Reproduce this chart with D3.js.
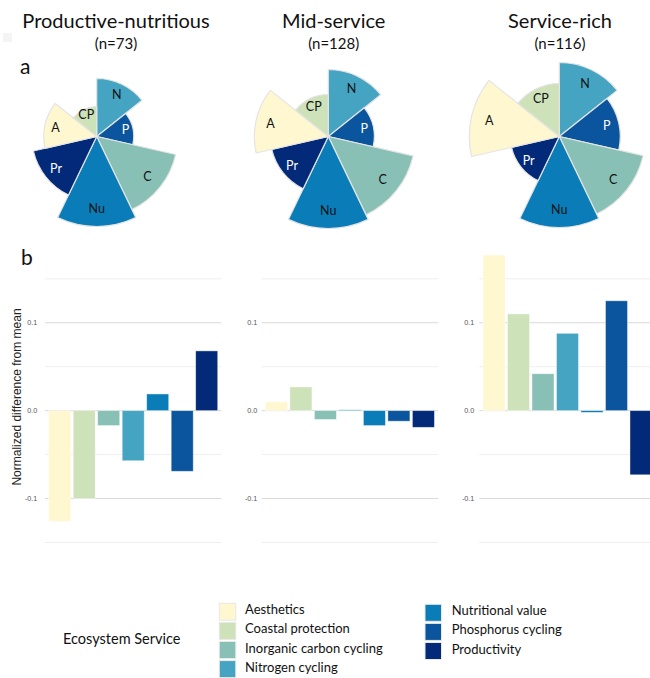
<!DOCTYPE html>
<html>
<head>
<meta charset="utf-8">
<script src="https://cdn.jsdelivr.net/npm/d3@7"></script>
<style>
  html, body { margin: 0; padding: 0; background: #fff; }
  svg { display: block; }
</style>
</head>
<body>
<svg id="chart" width="650" height="678"></svg>
<script>
// Ecosystem services, in legend / bar order
const services = ["Aesthetics", "Coastal protection", "Inorganic carbon cycling", "Nitrogen cycling",
                  "Nutritional value", "Phosphorus cycling", "Productivity"];
const abbrev = ["A", "CP", "C", "N", "Nu", "P", "Pr"];
const serviceColors = ["#fff7cf", "#cde2b9", "#88c0b5", "#45a4c1", "#0a7db8", "#0a559e", "#032a79"];

// Clusters of sites
const groups = ["Productive-nutritious", "Mid-service", "Service-rich"];
const groupN = [73, 128, 116];

// Clockwise order of the wedges in each rose, starting at 12 o'clock
const roseOrder = ["N", "P", "C", "Nu", "Pr", "A", "CP"];

// Relative service level per cluster (wedge length), in service order
const levelProductive = [0.53, 0.30, 0.81, 0.58, 0.90, 0.37, 0.65];
const levelMid        = [0.74, 0.42, 0.87, 0.67, 0.92, 0.46, 0.58];
const levelRich       = [0.90, 0.53, 0.86, 0.74, 0.91, 0.61, 0.49];

// Normalized difference from the overall mean, in service order
const diffProductive = [-0.126, -0.100, -0.017, -0.057, 0.019, -0.069, 0.068];
const diffMid        = [0.010, 0.027, -0.010, 0.001, -0.017, -0.012, -0.019];
const diffRich       = [0.177, 0.110, 0.042, 0.088, -0.002, 0.125, -0.073];

// Axis ticks
const majorTicks = [-0.1, 0.0, 0.1];
const majorTickLabels = ["-0.1", "0.0", "0.1"];
const minorTicks = [-0.15, -0.05, 0.05, 0.15];

const levels = [levelProductive, levelMid, levelRich];
const diffs = [diffProductive, diffMid, diffRich];

const svg = d3.select("#chart");
const calibri = "Lato, 'Open Sans', sans-serif";
const arial = "'Liberation Sans', Arial, sans-serif";

const colorOf = d3.scaleOrdinal().domain(abbrev).range(serviceColors);
const darkLabels = new Set(["P", "Pr"]);

// Per-panel placement
const panels = [
  { roseX: 96.7,  titleX: 116,   barLeft: 45,    tickRight: 37.3 },
  { roseX: 328.3, titleX: 333.7, barLeft: 261.7, tickRight: 257.3 },
  { roseX: 559.3, titleX: 560,   barLeft: 479.3, tickRight: 474.3 }
];
const roseY = 136.5;

// faint key square, top left
svg.append("rect").attr("x", 3).attr("y", 33).attr("width", 9).attr("height", 9).attr("fill", "#f4f4f4");

// Panel letters
svg.append("text").attr("x", 20).attr("y", 74).text("a")
  .attr("font-family", calibri).attr("font-size", 21).attr("fill", "#111");
svg.append("text").attr("x", 21).attr("y", 265).text("b")
  .attr("font-family", calibri).attr("font-size", 21).attr("fill", "#111");

// Radial scale for the roses
const rScale = d3.scaleLinear().domain([0, 1]).range([0, 100]);
const wedge = (2 * Math.PI) / roseOrder.length;

// Bar scales
const step = 24.5;
const yScale = d3.scaleLinear().domain([-0.15, 0.15]).range([542.5, 278.8]);

groups.forEach((g, gi) => {
  const p = panels[gi];

  // Titles
  svg.append("text").attr("x", p.titleX).attr("y", 28).attr("text-anchor", "middle")
    .attr("font-family", calibri).attr("font-size", 20).attr("fill", "#111").text(g);
  svg.append("text").attr("x", p.titleX).attr("y", 49).attr("text-anchor", "middle")
    .attr("font-family", calibri).attr("font-size", 15).attr("fill", "#111").text(`(n=${groupN[gi]})`);

  // Rose chart
  const roseData = roseOrder.map((ab, k) => {
    const si = abbrev.indexOf(ab);
    return { ab, value: levels[gi][si], start: k * wedge, end: (k + 1) * wedge };
  });
  const arc = d3.arc().innerRadius(0)
    .outerRadius(d => rScale(d.value))
    .startAngle(d => d.start).endAngle(d => d.end);
  const rose = svg.append("g").attr("transform", `translate(${p.roseX},${roseY})`);
  rose.selectAll("path").data(roseData).join("path")
    .attr("d", arc)
    .attr("fill", d => colorOf(d.ab))
    .attr("stroke", "#e4e4e4").attr("stroke-width", 1.2).attr("stroke-linejoin", "round");
  rose.selectAll("text").data(roseData).join("text")
    .attr("x", d => Math.sin((d.start + d.end) / 2) * rScale(d.value) * 0.8)
    .attr("y", d => -Math.cos((d.start + d.end) / 2) * rScale(d.value) * 0.8)
    .attr("text-anchor", "middle").attr("dy", "0.36em")
    .attr("font-family", calibri).attr("font-size", 12.5)
    .attr("fill", d => darkLabels.has(d.ab) ? "#fff" : "#111")
    .text(d => d.ab);

  // Bar panel
  const xScale = d3.scaleBand().domain(services)
    .range([p.barLeft, p.barLeft + step * 7.2])
    .paddingInner(0.1).paddingOuter(0.15);
  const [x0, x1] = xScale.range();
  const bp = svg.append("g");

  bp.selectAll("line.minor").data(minorTicks).join("line").attr("class", "minor")
    .attr("x1", x0).attr("x2", x1)
    .attr("y1", d => yScale(d)).attr("y2", d => yScale(d))
    .attr("stroke", "#efefef").attr("stroke-width", 1);
  bp.selectAll("line.major").data(majorTicks).join("line").attr("class", "major")
    .attr("x1", x0).attr("x2", x1)
    .attr("y1", d => yScale(d)).attr("y2", d => yScale(d))
    .attr("stroke", "#d9d9d9").attr("stroke-width", 1);
  bp.selectAll("text.tick").data(majorTicks).join("text").attr("class", "tick")
    .attr("x", p.tickRight).attr("y", d => yScale(d)).attr("dy", "0.35em")
    .attr("text-anchor", "end").attr("font-family", arial).attr("font-size", 7.2)
    .attr("fill", "#555").text((d, i) => majorTickLabels[i]);

  const barData = services.map((s, i) => ({ s, ab: abbrev[i], v: diffs[gi][i] }));
  bp.selectAll("rect.bar").data(barData).join("rect").attr("class", "bar")
    .attr("x", d => xScale(d.s)).attr("width", xScale.bandwidth())
    .attr("y", d => yScale(Math.max(0, d.v)))
    .attr("height", d => Math.max(1, Math.abs(yScale(d.v) - yScale(0))))
    .attr("fill", d => colorOf(d.ab))
    .attr("stroke", "#ffffff").attr("stroke-opacity", 0.55).attr("stroke-width", 0.8);
});

// Y axis title
svg.append("text")
  .attr("transform", `translate(21,397) rotate(-90)`)
  .attr("text-anchor", "middle").attr("font-family", arial).attr("font-size", 12)
  .attr("fill", "#222").text("Normalized difference from mean");

// Legend
svg.append("text").attr("x", 63).attr("y", 643.5).attr("font-family", calibri)
  .attr("font-size", 14.5).attr("fill", "#111").text("Ecosystem Service");

const legendCols = [
  { x: 219.3, y: 603.3, tx: 245, items: [0, 1, 2, 3] },
  { x: 425,   y: 604.3, tx: 451.7, items: [4, 5, 6] }
];
legendCols.forEach(col => {
  const lg = svg.append("g");
  lg.selectAll("rect").data(col.items).join("rect")
    .attr("x", col.x).attr("y", (d, k) => col.y + k * 19.1)
    .attr("width", 16.5).attr("height", 17)
    .attr("fill", d => serviceColors[d])
    .attr("stroke", "#e8e8e8").attr("stroke-width", 1);
  lg.selectAll("text").data(col.items).join("text")
    .attr("x", col.tx).attr("y", (d, k) => col.y + k * 19.1 + 11)
    .attr("font-family", calibri).attr("font-size", 13).attr("fill", "#111")
    .text(d => services[d]);
});
</script>
</body>
</html>
